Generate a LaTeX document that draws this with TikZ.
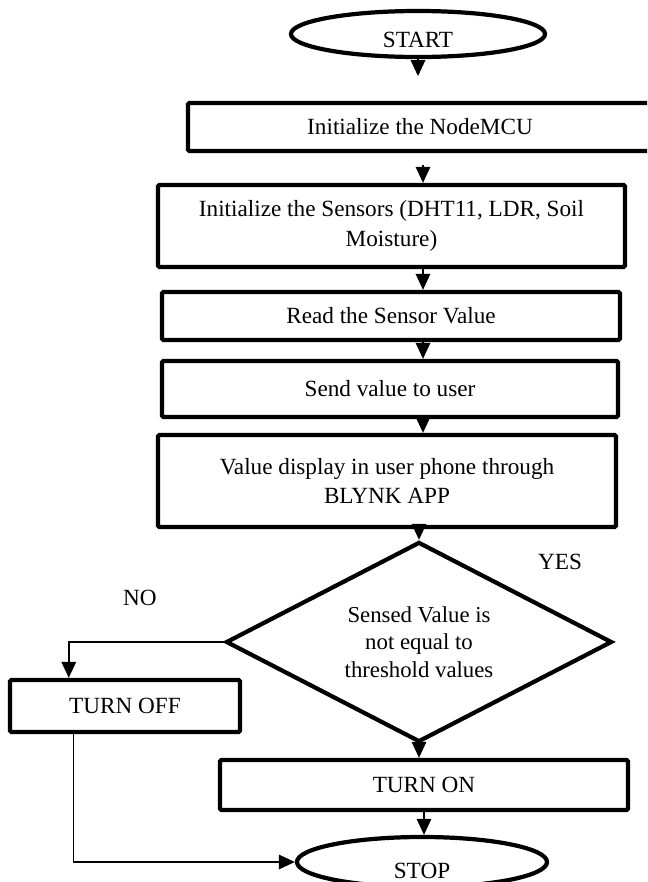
\documentclass[tikz,border=0pt]{standalone}
\usepackage{fontspec}
\setmainfont{Liberation Serif}
\usetikzlibrary{shapes.geometric,arrows.meta,calc}

\newcommand{\flowfont}{\fontsize{16.5}{21}\selectfont}
\newcommand{\decfont}{\fontsize{16.2}{19.5}\selectfont}
\tikzset{
	procbox/.style={draw,line width=3pt,rounded corners=1pt,align=center,font=\flowfont,inner sep=0pt},
	termnode/.style={draw,ellipse,line width=3pt,font=\flowfont,inner sep=0pt},
	decision/.style={draw,diamond,aspect=2,line width=3pt,align=center,font=\decfont,inner sep=0pt},
	arr/.style={-{Triangle[length=0.4cm,width=0.36cm]},line width=1.3pt},
	lbl/.style={font=\flowfont}
}

\begin{document}
\begin{tikzpicture}[x=0.025cm,y=-0.025cm]
	\useasboundingbox (0,0) rectangle (647,882);
	\clip (0,0) rectangle (647,882);
	\coordinate (spine) at (423,0);
	\node[termnode,minimum width=6.35cm,minimum height=1.15cm,text height=20pt] (start) at (418,34){START};
	\node[procbox,minimum width=11.6cm,minimum height=1.2cm] (init) at (420,127){Initialize the NodeMCU};
	\node[procbox,minimum width=11.675cm,minimum height=2.05cm] (sensors) at (391.5,226){Initialize the Sensors (DHT11, LDR, Soil\\Moisture)};
	\node[procbox,minimum width=11.45cm,minimum height=1.2cm] (read) at (391,316){Read the Sensor Value};
	\node[procbox,minimum width=11.4cm,minimum height=1.4cm] (send) at (390,389){Send value to user};
	\node[procbox,minimum width=11.45cm,minimum height=2.3cm] (show) at (387,481){Value display in user phone through\\BLYNK APP};
	\node[decision,minimum width=9.65cm,minimum height=5cm] (dia) at (419,642){Sensed Value is\\not equal to\\threshold values};
	\node[procbox,minimum width=5.75cm,minimum height=1.3cm] (off) at (125,706){TURN OFF};
	\node[procbox,minimum width=10.2cm,minimum height=1.25cm] (on) at (424,785){TURN ON};
	\node[termnode,minimum width=6.25cm,minimum height=1.25cm,text height=24pt] (stop) at (422,862){STOP};
	\node[lbl] (yes) at (560,562){YES};
	\node[lbl] (no) at (140,598){NO};

	\draw[arr,shorten >=0.62cm] (start.south) -- (start.south |- init.north);
	\draw[arr,shorten <=0.3cm] (spine |- init.south) -- (spine |- sensors.north);
	\draw[arr] (spine |- sensors.south) -- (spine |- read.north);
	\draw[arr] (spine |- read.south) -- (spine |- send.north);
	\draw[arr] (spine |- send.south) -- (spine |- show.north);
	\draw[arr] (dia.north |- show.south) -- (dia.north);
	\draw[arr] (dia.south) -- (dia.south |- on.north);
	\draw[arr] (on.south) -- (on.south |- stop.north);
	\draw[arr] (dia.west) -| ($(off.north west)!.26!(off.north east)$);
	\draw[arr] ($(off.south west)!.28!(off.south east)$) |- (stop.west);
\end{tikzpicture}
\end{document}
